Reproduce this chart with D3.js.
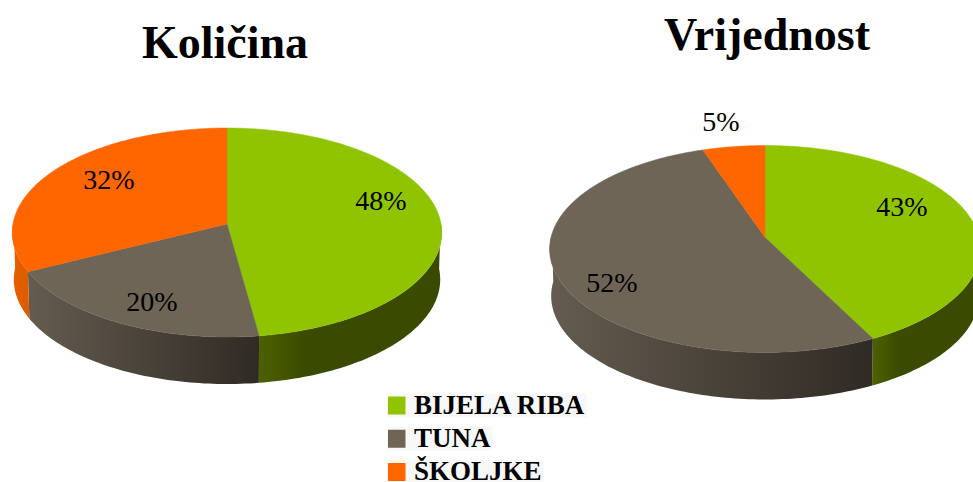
<!DOCTYPE html>
<html>
<head>
<meta charset="utf-8">
<script src="https://cdn.jsdelivr.net/npm/d3@7"></script>
<style>
html, body { margin: 0; padding: 0; background: #fff; overflow: hidden; }
text { font-family: "Liberation Serif", serif; fill: #000; }
</style>
</head>
<body>
<div id="chart"></div>
<script>
var categories = ["BIJELA RIBA", "TUNA", "ŠKOLJKE"];
// slice sizes, printed rounded
var kolicina = [47.8, 19.9, 32.3];
var vrijednost = [42.5, 52.3, 5.2];
var titles = ["Količina", "Vrijednost"];

var topCols = ["#90c400", "#6e6556", "#ff6600"];
var sideCols = [["#4d6000", "#3a4a00"], ["#655c4f", "#2f2a24"], ["#e66000", "#dc5c00"]];

var svg = d3.select("#chart").append("svg")
  .attr("width", 973)
  .attr("height", 482);

var defs = svg.append("defs");
var pie = d3.pie().sort(null).value(function(d) { return d; });

// cx,cy = point where the slices meet, k = perspective strength
var layout = [
  { cx: 227, cy: 224, rx: 214, ry: 103.8, k: 0.0814, depth: 47, titleX: 225, titleY: 58,
    labels: [[154, -24], [-75, 77], [-118, -45]] },
  { cx: 765, cy: 237.5, rx: 214, ry: 102.2, k: 0.111, depth: 47, titleX: 767, titleY: 50,
    labels: [[137, -31], [-153, 45], [-44, -116]] }
];

function project(p, a, bottom) {
  var x = Math.sin(a), y = -Math.cos(a);
  var w = 1 - p.k * y;
  var s = bottom ? 0.993 : 1;
  return [
    p.cx + s * p.rx * x / w,
    p.cy + p.ry * y / w + (bottom ? p.depth : 0)
  ];
}

function arcPts(p, a0, a1, bottom) {
  var n = Math.max(2, Math.ceil((a1 - a0) / 0.02));
  return d3.range(n + 1).map(function(i) {
    return project(p, a0 + (a1 - a0) * i / n, bottom);
  });
}

var line = d3.line();

function drawPie(values, p, idx) {
  var g = svg.append("g");
  var slices = pie(values);
  var frontA = Math.PI / 2 - 0.02, frontB = Math.PI * 1.5 + 0.03;

  slices.forEach(function(s, i) {
    var a0 = Math.max(s.startAngle, frontA), a1 = Math.min(s.endAngle, frontB);
    if (a1 <= a0) return;
    var top = arcPts(p, a0, a1, false);
    var bot = arcPts(p, a0, a1, true).reverse();
    var xs = top.map(function(d) { return d[0]; });
    var id = "side_" + idx + "_" + i;
    var grad = defs.append("linearGradient")
      .attr("id", id)
      .attr("gradientUnits", "userSpaceOnUse")
      .attr("x1", d3.min(xs)).attr("x2", d3.max(xs))
      .attr("y1", 0).attr("y2", 0);
    grad.append("stop").attr("offset", "0").attr("stop-color", sideCols[i][0]);
    grad.append("stop").attr("offset", i == 0 ? "0.25" : "1").attr("stop-color", sideCols[i][1]);
    g.append("path")
      .attr("d", line(top.concat(bot)) + "Z")
      .attr("fill", "url(#" + id + ")");
  });

  slices.forEach(function(s, i) {
    var pts = [[p.cx, p.cy]].concat(arcPts(p, s.startAngle, s.endAngle, false));
    g.append("path")
      .attr("d", line(pts) + "Z")
      .attr("fill", topCols[i])
      .attr("stroke", topCols[i])
      .attr("stroke-width", 0.5);
  });

  slices.forEach(function(s, i) {
    g.append("text")
      .attr("x", p.cx + p.labels[i][0])
      .attr("y", p.cy + p.labels[i][1])
      .attr("text-anchor", "middle")
      .attr("dominant-baseline", "central")
      .attr("font-size", "28px")
      .text(Math.round(values[i]) + "%");
  });

  svg.append("text")
    .attr("x", p.titleX)
    .attr("y", p.titleY)
    .attr("text-anchor", "middle")
    .attr("font-weight", "700")
    .attr("font-size", "46px")
    .text(titles[idx]);
}

drawPie(kolicina, layout[0], 0);
drawPie(vrijednost, layout[1], 1);

// legend
var legendY = d3.scalePoint().domain(categories).range([405.5, 472]);
var legend = svg.append("g").selectAll("g").data(categories).enter().append("g");

var legendBg = legend.append("rect")
  .attr("x", 387)
  .attr("y", function(d) { return legendY(d) - 12; })
  .attr("height", 24)
  .attr("fill", "#f8f8f8");

legend.append("rect")
  .attr("x", 388).attr("width", 17.5)
  .attr("y", function(d) { return legendY(d) - 9; })
  .attr("height", 18)
  .attr("fill", function(d, i) { return topCols[i]; });

var legendText = legend.append("text")
  .attr("x", 414)
  .attr("y", function(d) { return legendY(d) + 8.3; })
  .attr("font-weight", "700")
  .attr("font-size", "27px")
  .text(function(d) { return d; });

legendBg.attr("width", function(d, i) {
  return legendText.nodes()[i].getComputedTextLength() + 29;
});
</script>
</body>
</html>
